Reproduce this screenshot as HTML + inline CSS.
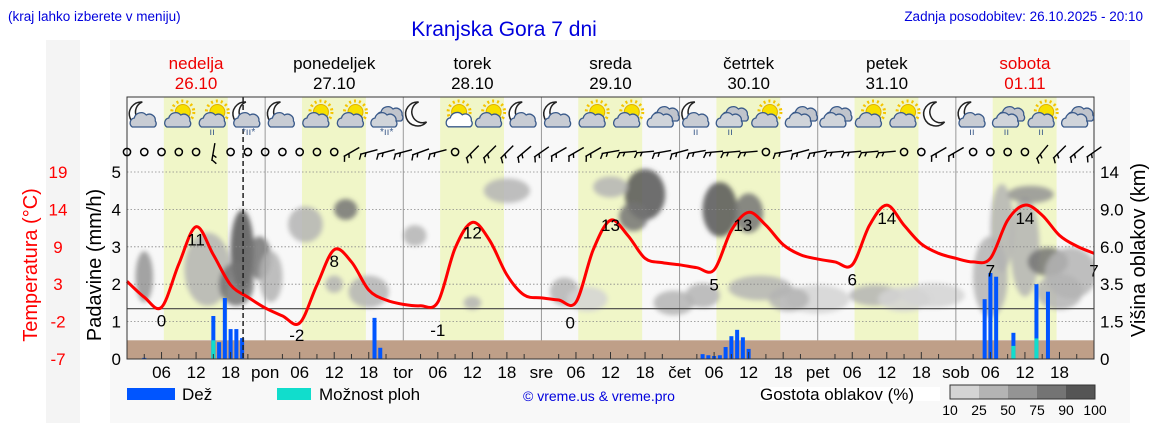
<!DOCTYPE html>
<html><head><meta charset="utf-8">
<style>
html,body{margin:0;padding:0;background:#fff;}
body{width:1152px;height:443px;overflow:hidden;font-family:"Liberation Sans","DejaVu Sans",sans-serif;}
svg{display:block;}
</style></head>
<body>
<svg id="chart" width="1152" height="443" viewBox="0 0 1152 443" xmlns="http://www.w3.org/2000/svg" font-family="Liberation Sans, DejaVu Sans, sans-serif">
<defs>
<filter id="blur" x="-50%" y="-50%" width="200%" height="200%"><feGaussianBlur stdDeviation="2.5"/></filter>
<clipPath id="plotclip"><rect x="127" y="97" width="967" height="262"/></clipPath>
</defs>
<rect x="46" y="40" width="34" height="383" fill="#f4f4f4"/>
<rect x="110" y="40" width="1020" height="383" fill="#f8f8f8"/>
<text x="8" y="21" font-size="13.5" fill="#0000dd">(kraj lahko izberete v meniju)</text>
<text x="504" y="36" font-size="21" fill="#0000dd" text-anchor="middle">Kranjska Gora 7 dni</text>
<text x="1143" y="21" font-size="13.5" fill="#0000dd" text-anchor="end">Zadnja posodobitev: 26.10.2025 - 20:10</text>
<g id="layer"></g>
</svg>
<script>
const dayNames = ["nedelja","ponedeljek","torek","sreda","četrtek","petek","sobota"];
const dayDates = ["26.10","27.10","28.10","29.10","30.10","31.10","01.11"];
const dayAbbr = ["","pon","tor","sre","čet","pet","sob"];
const leftTempTicks = ["19","14","9","3","-2","-7"];
const rainTicks = [0,1,2,3,4,5];
const cloudTicks = ["0","1.5","3.5","6.0","9.0","14"];
// temperature every 3 h from 00:00 Sunday
const tempHours = [0,3,6,9,12,15,18,21,24,27,30,33,36,39,42,45,48,51,54,57,60,63,66,69,72,75,78,81,84,87,90,93,96,99,102,105,108,111,114,117,120,123,126,129,132,135,138,141,144,147,150,153,156,159,162,165,168];
const tempValues = [3.8,1.6,0.2,6.2,11.4,7.5,3.3,1.6,0.1,-1,-2,3.3,8.2,6.5,2.6,1.2,0.6,0.4,0.9,8.4,12,9.5,4.7,1.9,1.5,1.2,0.9,8.2,12.3,10.2,7,6.4,6.1,5.7,5.4,10.9,13.4,11.6,8.9,7.5,6.9,6.5,6.1,11.6,14.4,11.6,9,7.7,7,6.5,7,12.3,14.4,13,10.2,8.7,7.7];
const tempLabelHours = [6,12,29.5,36,54,60,77,84,102,107,126,132,150,156,168];
const tempLabelValues = [0,11,-2,8,-1,12,0,13,5,13,6,14,7,14,7];
const tempLabelOffsets = [18,16,18,16,20,16,20,16,18,16,20,16,18,16,18];
// precipitation bars (hour, mm/h, shower-chance part mm/h)
const rainHours = [3,15,16,17,18,19,20,43,44,100,101,102,103,104,105,106,107,108,149,150,151,154,158,160];
const rainValues = [0.03,1.15,0.45,1.63,0.8,0.8,0.56,1.1,0.3,0.13,0.1,0.08,0.1,0.32,0.61,0.78,0.58,0.27,1.6,2.3,2.2,0.7,2.0,1.8];
const showerValues = [0,0.5,0,0,0,0,0,0,0,0,0,0,0,0,0,0,0,0,0,0,0,0.35,0.55,0];
// weather icons every 6 h (3,9,15,21 ...)
const iconTypes = ["mc","sc","scr","mcs","mc","sc","sc","ccs","m","sw","sc","mc","mc","sc","sc","cc","mcr","ccr","sc","cc","cc","sc","sc","m","mcr","ccr","scr","cc"];
// wind every 3 h: 0 calm, 1 wind
const windFlags = [0,0,0,0,0,1,0,0, 0,0,0,0,0,1,1,1, 1,1,1,0,1,1,1,1, 1,1,1,1,1,1,1,1, 1,1,1,1,1,0,1,1, 1,1,1,1,1,0,0,1, 1,0,0,0,0,1,1,1,1];
const windAngles = [0,-80,0,0,0,-80,0,0, 0,0,0,0,0,-30,-15,-15, -15,-20,-15,0,-45,-45,-45,-40, -35,-30,-30,-30,-10,-5,-5,-10, -15,-10,-5,-5,-5,0,-10,-15, -10,-5,-5,-5,-5,0,0,-30, -30,0,0,0,0,-50,-45,-40,-35];
// cloud density blobs
const cloudHours = [3,14,20,19,23,25,31,38,36,42,50,60,66,76,90,88,84,103,108,110,95,120,130,140,150,156,160,162,152,157,164,80,100,115,135];
const cloudLevels = [2.2,2.4,2.9,2.0,2.7,2.2,3.6,4.0,2.0,1.8,3.3,1.5,4.5,1.8,4.4,3.8,4.6,4.0,3.9,1.9,1.5,1.6,1.7,1.7,2.2,3.0,2.6,1.8,3.5,4.4,2.3,1.6,1.7,1.6,1.6];
const cloudWidths = [2,7,3,5,3,3,5,3,2,6,3,2,7,4,6,4,5,5,4,10,6,10,8,10,5,4,6,7,3,7,8,6,5,6,8];
const cloudSpans = [1.2,1.8,2.0,1.0,1.0,1.2,0.8,0.4,0.3,0.7,0.4,0.2,0.5,0.6,1.2,0.6,0.4,1.3,0.9,0.5,0.5,0.6,0.4,0.5,2.0,2.5,0.6,0.8,2.2,0.3,1.2,0.5,0.5,0.5,0.5];
const cloudDens = [2,1,4,3,3,1,1,3,1,1,1,1,1,1,4,3,1,4,3,1,1,0,1,0,1,1,3,1,1,2,1,0,1,1,0];

const X0=127, HW=967/168, Y0=359, MMPX=37.4;
const xh = h => X0 + h*HW;
const ymm = v => Y0 - v*MMPX;
const yT = t => Y0 - (t+7)*7.19;
const NS="http://www.w3.org/2000/svg";
const L=document.getElementById('layer');
function mk(tag, attrs, parent){const e=document.createElementNS(NS,tag);for(const k in attrs)e.setAttribute(k,attrs[k]);(parent||L).appendChild(e);return e;}
const shades=["#d4d4d4","#b4b4b4","#949494","#747474","#555555"];

let bg=mk('rect',{x:127,y:97,width:967,height:262,fill:'#f8f8f8'});


for(let d=0;d<7;d++){
  const r=mk('rect',{x:xh(d*24+6.4),y:97,width:xh(17.5)-xh(6.4),height:243,fill:'#f0f6c8'});
  
  
}
const cg=mk('g',{'clip-path':'url(#plotclip)'});
const cgi=mk('g',{filter:'url(#blur)'},cg);
for(let i=0;i<cloudHours.length;i++){
  const e=mk('ellipse',{cx:xh(cloudHours[i]),cy:ymm(cloudLevels[i]),rx:cloudWidths[i]*HW/2+3,ry:cloudSpans[i]*MMPX/2+3,fill:shades[cloudDens[i]],opacity:0.85},cgi);
  
  
}
for(let v=1;v<=5;v++){
  const g=mk('line',{x1:127,x2:1094,y1:ymm(v),y2:ymm(v),stroke:'#888',"stroke-width":0.8,"stroke-dasharray":"1.5,2"});
  
  
}
for(let d=1;d<7;d++){
  const s=mk('line',{x1:xh(d*24),x2:xh(d*24),y1:97,y2:359,stroke:'#999',"stroke-width":1});
  
  
}
const gb=mk('rect',{x:127,y:ymm(0.5),width:967,height:Y0-ymm(0.5),fill:'#bf9f88'});


const fz=mk('line',{x1:127,x2:1094,y1:yT(0),y2:yT(0),stroke:'#444',"stroke-width":1.2});


for(let i=0;i<rainHours.length;i++){
  const x=xh(rainHours[i])-2;
  const b=mk('rect',{x:x,y:ymm(rainValues[i]),width:4,height:rainValues[i]*MMPX,fill:'#0055ff'});
  
  
  if(showerValues[i]>0){
    const c=mk('rect',{x:x,y:ymm(showerValues[i]),width:4,height:showerValues[i]*MMPX,fill:'#11ddcc'});
    
    
  }
}
let pts=tempHours.map((h,i)=>[xh(h),yT(tempValues[i])]);
let d='M'+pts[0][0]+','+pts[0][1];
for(let i=0;i<pts.length-1;i++){
  const p0=pts[Math.max(0,i-1)],p1=pts[i],p2=pts[i+1],p3=pts[Math.min(pts.length-1,i+2)];
  const c1=[p1[0]+(p2[0]-p0[0])/6,p1[1]+(p2[1]-p0[1])/6];
  const c2=[p2[0]-(p3[0]-p1[0])/6,p2[1]-(p3[1]-p1[1])/6];
  d+=` C${c1[0]},${c1[1]} ${c2[0]},${c2[1]} ${p2[0]},${p2[1]}`;
}
const tc=mk('path',{d:d,fill:'none',stroke:'#ff0000',"stroke-width":3,"stroke-linejoin":"round"});


for(let i=0;i<tempLabelHours.length;i++){
  const t=mk('text',{x:xh(tempLabelHours[i]),y:yT(tempLabelValues[i])+tempLabelOffsets[i],"font-size":17,"text-anchor":"middle",fill:'#000'});
  t.textContent=String(tempLabelValues[i]);
  
  
}
const nl=mk('line',{x1:xh(20.17),x2:xh(20.17),y1:97,y2:359,stroke:'#222',"stroke-width":1.5,"stroke-dasharray":"5,3"});


const pb=mk('rect',{x:127,y:97,width:967,height:262,fill:'none',stroke:'#333',"stroke-width":1});


for(let h=0;h<=168;h+=3){
  const len=(h%24===0)?0:(h%6===0?7:5);
  if(len){mk('line',{x1:xh(h),x2:xh(h),y1:Y0-len,y2:Y0,stroke:'#333',"stroke-width":1});}
  if(h<168&&h%6===0&&h%24!==0){
    const t=mk('text',{x:xh(h),y:378,"font-size":17,"text-anchor":"middle"});
    t.textContent=String(h%24).padStart(2,'0');
    
    
  }
}
for(let dd=1;dd<7;dd++){
  const t=mk('text',{x:xh(dd*24),y:378,"font-size":17,"text-anchor":"middle"});
  t.textContent=dayAbbr[dd];
  
  
}
for(let dd=0;dd<7;dd++){
  const red=(dd===0||dd===6);
  const n=mk('text',{x:xh(dd*24+12),y:69,"font-size":17,"text-anchor":"middle",fill:red?'#ee0000':'#000'});
  n.textContent=dayNames[dd];
  
  
  const t=mk('text',{x:xh(dd*24+12),y:89,"font-size":17,"text-anchor":"middle",fill:red?'#ee0000':'#000'});
  t.textContent=dayDates[dd];
  
  
}
for(let i=0;i<6;i++){
  const t=mk('text',{x:58,y:ymm(5-i)+6,"font-size":17,"text-anchor":"middle",fill:'#ff0000'});
  t.textContent=leftTempTicks[i];
  
  
  const r=mk('text',{x:121,y:ymm(rainTicks[5-i])+6,"font-size":17,"text-anchor":"end"});
  r.textContent=String(rainTicks[5-i]);
  
  
  const c=mk('text',{x:1100,y:ymm(i)+6,"font-size":17});
  c.textContent=cloudTicks[i];
  
  
}
const a1=mk('text',{x:0,y:0,"font-size":20,"text-anchor":"middle",fill:'#ff0000',transform:'translate(37,265) rotate(-90)'});
a1.textContent='Temperatura (°C)';


const a2=mk('text',{x:0,y:0,"font-size":20,"text-anchor":"middle",transform:'translate(101,265) rotate(-90)'});
a2.textContent='Padavine (mm/h)';


const a3=mk('text',{x:0,y:0,"font-size":20,"text-anchor":"middle",transform:'translate(1145,250) rotate(-90)'});
a3.textContent='Višina oblakov (km)';


function cloud(g,cx,cy,s,fill){
  mk('path',{d:`M${cx-11*s},${cy+6*s} a5,5 0 0 1 2,-9 a7,7 0 0 1 12,-3 a6,6 0 0 1 9,6 a4,4 0 0 1 -1,6 z`,fill:fill||'#c8ccd4',stroke:'#3a5a8a',"stroke-width":1.3},g);
}
for(let i=0;i<iconTypes.length;i++){
  const cx=xh(i*6+3), cy=118, ty=iconTypes[i];
  const g=mk('g',{});
  
  
  if(ty[0]==='m'){mk('path',{d:`M${cx-2},${cy-16} a12,12 0 1 0 8,20 a10,10 0 0 1 -8,-20 z`,fill:'#fff',stroke:'#222',"stroke-width":1.5},g);}
  if(ty[0]==='s'){
    mk('circle',{cx:cx+4,cy:cy-6,r:11,fill:'none',stroke:'#f4c400',"stroke-width":3,"stroke-dasharray":"2,3"},g);
    mk('circle',{cx:cx+4,cy:cy-6,r:7.5,fill:'#f7e000',stroke:'#e0b000'},g);
  }
  if(ty==='sw'){cloud(g,cx+2,cy+4,0.8,'#fff');}
  else if(ty==='m'){}
  else if(ty[0]==='c'){cloud(g,cx+4,cy-3,1,'#c0c4cc');cloud(g,cx-2,cy+3,1,'#d0d4da');}
  else {cloud(g,cx-1,cy+3,1);}
  if(ty.endsWith('r')){const t=mk('text',{x:cx-4,y:cy+17,"font-size":10,fill:'#3a5a8a'},g);t.textContent='ıı';}
  if(ty.endsWith('s')){const t=mk('text',{x:cx-6,y:cy+17,"font-size":10,fill:'#3a5a8a'},g);t.textContent='*ıı*';}
}
for(let i=0;i<windFlags.length;i++){
  const cx=xh(i*3), cy=152;
  if(windFlags[i]===0){
    const c=mk('circle',{cx:cx,cy:cy,r:3.6,fill:'none',stroke:'#000',"stroke-width":1.5});
    
    
  } else {
    const g=mk('g',{transform:`translate(${cx},${cy}) rotate(${windAngles[i]})`});
    
    
    mk('line',{x1:-9,y1:0,x2:9,y2:0,stroke:'#000',"stroke-width":1.4},g);
    mk('line',{x1:-8,y1:0,x2:-11,y2:5,stroke:'#000',"stroke-width":1.4},g);
    mk('line',{x1:-3,y1:0,x2:-5,y2:4,stroke:'#000',"stroke-width":1.4},g);
  }
}
const lg=mk('g',{});


mk('rect',{x:127,y:388,width:48,height:12,fill:'#0055ff'},lg);
let t=mk('text',{x:182,y:400,"font-size":17},lg);t.textContent='Dež';


mk('rect',{x:277,y:388,width:34,height:12,fill:'#11ddcc'},lg);
t=mk('text',{x:319,y:400,"font-size":17},lg);t.textContent='Možnost ploh';


t=mk('text',{x:599,y:401,"font-size":14,"text-anchor":"middle",fill:'#0000dd'},lg);t.textContent='© vreme.us & vreme.pro';


mk('rect',{x:760,y:387,width:180,height:14,fill:'#fff'},lg);
t=mk('text',{x:760,y:400,"font-size":17},lg);t.textContent='Gostota oblakov (%)';


const cbLabels=["10","25","50","75","90","100"];
for(let i=0;i<5;i++){
  const r=mk('rect',{x:950+i*29,y:385,width:29,height:14,fill:shades[i]},lg);
  
  
}
mk('rect',{x:950,y:385,width:145,height:14,fill:'none',stroke:'#333'},lg);
for(let i=0;i<6;i++){
  const c=mk('text',{x:950+i*29,y:415,"font-size":14,"text-anchor":"middle"},lg);
  c.textContent=cbLabels[i];
  
  
}
</script>
</body></html>
